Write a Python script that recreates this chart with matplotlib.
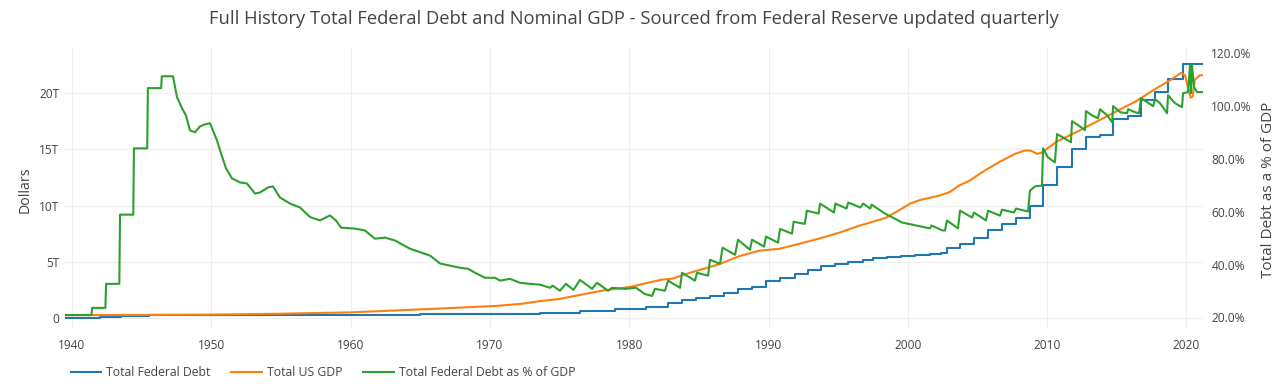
import matplotlib
matplotlib.use("Agg")
from matplotlib import pyplot as plt
from matplotlib.lines import Line2D

# total federal debt, trillions of dollars (step changes)
debt_years = [1939.5, 1942.0, 1943.5, 1944.5, 1945.5, 1950.0, 1955.0, 1960.0, 1965.0,
	1970.0, 1973.6, 1976.5, 1979.0, 1981.2, 1982.8, 1983.8, 1984.8, 1985.8, 1986.8,
	1987.8, 1988.8, 1989.8, 1990.8, 1991.9, 1992.8, 1993.8, 1994.8, 1995.7, 1996.8,
	1997.5, 1998.5, 1999.5, 2000.5, 2001.6, 2002.4, 2002.81, 2003.75, 2004.75, 2005.76,
	2006.76, 2007.77, 2008.77, 2009.71, 2010.71, 2011.79, 2012.79, 2013.80, 2014.74,
	2015.81, 2016.74, 2017.75, 2018.68, 2019.76, 2021.19]
debt_values = [0.04, 0.07, 0.14, 0.20, 0.26, 0.26, 0.28, 0.29, 0.32,
	0.37, 0.45, 0.63, 0.80, 1.0, 1.3, 1.6, 1.8, 2.0, 2.2,
	2.6, 2.8, 3.3, 3.6, 3.9, 4.3, 4.6, 4.8, 5.0, 5.2,
	5.3, 5.4, 5.5, 5.6, 5.7, 5.8, 6.2, 6.6, 7.1, 7.8,
	8.4, 8.9, 10.0, 11.8, 13.4, 15.0, 16.1, 16.3, 17.7,
	18.0, 19.4, 20.1, 21.3, 22.6, 22.6]

# nominal GDP, trillions of dollars
gdp_years = [1939.5, 1950.0, 1955.0, 1960.0, 1965.7, 1970.4, 1972.2, 1973.6, 1975.0,
	1976.1, 1977.9, 1980.1, 1981.2, 1982.3, 1983.1, 1984.3, 1986.5, 1987.9, 1989.3,
	1990.8, 1992.2, 1993.6, 1995.1, 1996.5, 1998.4, 1999.4, 2000.2, 2000.9, 2002.3,
	2003.0, 2003.7, 2004.4, 2005.5, 2006.6, 2007.7, 2008.4, 2008.8, 2009.3, 2009.6,
	2010.7, 2012.2, 2013.6, 2015.0, 2016.4, 2017.8, 2018.9, 2019.6, 2019.9, 2020.3,
	2020.45, 2020.6, 2020.98, 2021.19]
gdp_values = [0.25, 0.30, 0.38, 0.50, 0.80, 1.07, 1.25, 1.50, 1.70,
	1.96, 2.40, 2.77, 3.10, 3.40, 3.50, 4.00, 4.80, 5.50, 5.98,
	6.16, 6.60, 7.05, 7.60, 8.20, 8.90, 9.60, 10.2, 10.5, 10.9,
	11.2, 11.8, 12.2, 13.1, 13.9, 14.6, 14.9, 14.9, 14.6, 14.7,
	15.7, 16.6, 17.5, 18.4, 19.3, 20.4, 21.2, 21.8, 21.6, 19.6,
	19.7, 21.2, 21.6, 21.6]

# debt as % of GDP
pct_years = [1939.5, 1941.4, 1941.45, 1942.4, 1942.45, 1943.4, 1943.45, 1944.4, 1944.45,
	1945.4, 1945.45, 1946.4, 1946.45, 1947.25, 1947.54, 1947.9, 1948.18, 1948.47, 1948.83,
	1949.19, 1949.55, 1949.91, 1950.12, 1950.41, 1950.70, 1951.06, 1951.49, 1952.06, 1952.56,
	1953.14, 1953.50, 1954.07, 1954.43, 1954.93, 1955.65, 1956.37, 1957.09, 1957.8, 1958.52,
	1958.95, 1959.31, 1960.32, 1961.03, 1961.75, 1962.47, 1963.19, 1964.26, 1965.70, 1966.42,
	1967.14, 1967.85, 1968.43, 1968.93, 1969.65, 1970.37, 1970.73, 1971.44, 1972.16, 1972.88,
	1973.60, 1974.31, 1974.5, 1975.03, 1975.46, 1976.0, 1976.47, 1977.33, 1977.69, 1978.48,
	1978.77, 1979.70, 1980.5, 1981.1, 1981.64, 1981.85, 1982.57, 1982.79, 1983.65, 1983.79,
	1984.72, 1984.87, 1985.66, 1985.80, 1986.52, 1986.70, 1987.60, 1987.81, 1988.67, 1988.82,
	1989.68, 1989.82, 1990.68, 1990.83, 1991.69, 1991.80, 1992.60, 1992.75, 1993.60, 1993.70,
	1994.70, 1994.80, 1995.60, 1995.72, 1996.60, 1996.80, 1997.3, 1997.4, 1998.36, 1999.6,
	2000.6, 2001.59, 2001.7, 2002.5, 2002.67, 2002.81, 2003.6, 2003.75, 2004.61, 2004.75,
	2005.61, 2005.76, 2006.62, 2006.76, 2007.62, 2007.77, 2008.63, 2008.77, 2009.13, 2009.63,
	2009.71, 2010.06, 2010.56, 2010.71, 2011.21, 2011.71, 2011.79, 2012.22, 2012.72, 2012.79,
	2013.22, 2013.65, 2013.80, 2014.31, 2014.67, 2014.74, 2015.24, 2015.74, 2015.81, 2016.31,
	2016.60, 2016.74, 2017.18, 2017.61, 2017.75, 2018.11, 2018.61, 2018.68, 2019.18, 2019.68,
	2019.76, 2020.11, 2020.26, 2020.33, 2020.40, 2020.55, 2020.76, 2021.19]
pct_values = [20.9, 20.9, 23.6, 23.6, 32.7, 32.7, 58.9, 58.9, 84.0,
	84.0, 106.8, 106.8, 111.3, 111.3, 103.4, 99.2, 96.5, 90.8, 90.1,
	92.3, 93.1, 93.5, 90.8, 87.0, 82.1, 76.4, 72.6, 71.1, 70.7,
	66.9, 67.3, 69.2, 69.6, 65.4, 63.1, 61.6, 58.0, 56.7, 58.6,
	56.7, 54.0, 53.6, 52.9, 49.8, 50.2, 49.1, 46.0, 43.4, 40.4,
	39.6, 38.8, 38.4, 36.9, 35.0, 35.0, 33.9, 34.6, 33.1, 32.7,
	32.4, 31.2, 32.0, 30.1, 32.7, 30.4, 34.2, 30.8, 33.1, 30.1,
	31.2, 30.8, 31.2, 28.9, 28.1, 30.8, 30.1, 33.9, 31.2, 36.9,
	33.9, 36.9, 35.8, 41.8, 40.3, 46.4, 43.7, 49.4, 45.6, 49.4,
	46.8, 50.6, 48.3, 53.5, 51.7, 56.2, 55.4, 60.4, 59.3, 63.1,
	59.7, 63.1, 61.2, 63.5, 61.6, 63.1, 61.2, 62.7, 59.3, 55.9,
	54.8, 53.7, 54.8, 52.9, 52.9, 56.7, 53.7, 60.4, 57.8, 59.7,
	56.7, 60.4, 58.5, 60.8, 59.7, 61.2, 60.1, 68.0, 69.6, 69.9,
	84.0, 80.6, 78.7, 89.4, 87.9, 86.3, 94.3, 92.8, 90.9, 98.1,
	96.5, 95.4, 98.8, 96.5, 93.9, 100.0, 97.7, 97.3, 98.8, 97.7,
	97.3, 103.0, 101.5, 100.0, 102.6, 101.1, 97.3, 104.1, 101.1, 99.6,
	104.9, 105.3, 115.5, 104.9, 115.5, 107.2, 105.3, 105.3]

left_ticks = [0, 5, 10, 15, 20]
right_ticks = [20, 40, 60, 80, 100, 120]
year_ticks = [1940, 1950, 1960, 1970, 1980, 1990, 2000, 2010, 2020]

BLUE = '#1f77b4'
ORANGE = '#ff7f0e'
GREEN = '#2ca02c'
TXT = '#444444'

plt.rcParams['font.family'] = ['Open Sans', 'DejaVu Sans']

fig = plt.figure(figsize=(12.86, 3.87), dpi=100)
ax = fig.add_axes([65/1286, 1-329/387, (1203-65)/1286, (329-48)/387])
ax2 = ax.twinx()

ax.plot(debt_years, debt_values, color=BLUE, lw=1.5, drawstyle='steps-post')
ax.plot(gdp_years, gdp_values, color=ORANGE, lw=1.5)
ax2.plot(pct_years, pct_values, color=GREEN, lw=1.5)

ax.set_xlim(1939.5, 2021.19)
ax.set_ylim(-0.98, 24.02)
ax2.set_ylim(15.6, 122.0)

ax.set_xticks(year_ticks)
ax.set_xticklabels([str(y) for y in year_ticks])
ax.set_yticks(left_ticks)
ax.set_yticklabels(["0" if v == 0 else "%dT" % v for v in left_ticks])
ax2.set_yticks(right_ticks)
ax2.set_yticklabels(["%.1f%%" % v for v in right_ticks])

for a in (ax, ax2):
	for s in a.spines.values():
		s.set_visible(False)
	a.tick_params(length=0, labelsize=8.6, labelcolor=TXT)
ax.tick_params(axis='x', pad=7)
ax.tick_params(axis='y', pad=4)
ax2.tick_params(axis='y', pad=6)
ax.grid(True, color='#eeeeee', lw=0.75)
ax.set_axisbelow(True)

fig.text(25/1286, 1-190/387, "Dollars", rotation=90, ha='center', va='center', fontsize=10.2, color=TXT)
fig.text(1268/1286, 1-190/387, "Total Debt as a % of GDP", rotation=90, ha='center', va='center', fontsize=11, color=TXT)
fig.text(634/1286, 1-19/387, "Full History Total Federal Debt and Nominal GDP - Sourced from Federal Reserve updated quarterly",
	ha='center', va='center', fontsize=13.2, color=TXT)

handles = [Line2D([], [], color=BLUE, lw=1.5), Line2D([], [], color=ORANGE, lw=1.5), Line2D([], [], color=GREEN, lw=1.5)]
labels = ["Total Federal Debt", "Total US GDP", "Total Federal Debt as % of GDP"]
leg = fig.legend(handles, labels, loc='center left', bbox_to_anchor=(66/1286, 1-373/387), ncol=3,
	frameon=False, fontsize=8.8, handlelength=2.5, handletextpad=0.4, columnspacing=1.7, borderaxespad=0)
for t in leg.get_texts():
	t.set_color(TXT)

plt.savefig("out.png", dpi=100)
